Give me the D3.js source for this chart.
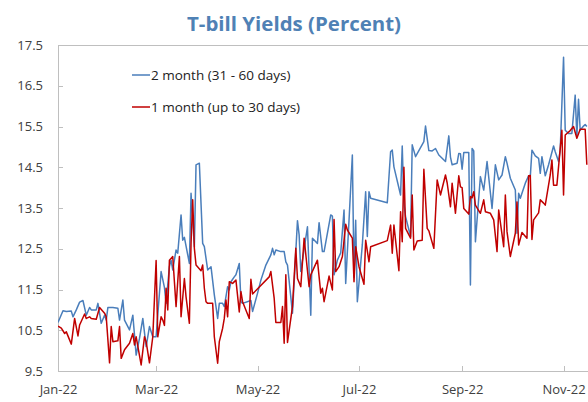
<!DOCTYPE html>
<html><head><meta charset="utf-8">
<script src="https://cdn.jsdelivr.net/npm/d3@7"></script>
<style>
html,body{margin:0;padding:0;background:#fff;}
svg{display:block;font-family:"Open Sans",sans-serif;}
</style></head>
<body><svg id="c" width="588" height="402"></svg>
<script>
const title = "T-bill Yields (Percent)";
const seriesNames = ["2 month (31 - 60 days)", "1 month (up to 30 days)"];
const yTicks = [9.5,10.5,11.5,12.5,13.5,14.5,15.5,16.5,17.5];

const blueDates = ["01-01","01-04","01-06","01-09","01-10","01-12","01-14","01-16","01-18","01-20","01-21","01-24","01-25","01-27","01-29","01-30","01-31","02-03","02-06","02-07","02-09","02-10","02-13","02-15","02-17","02-19","02-21","02-23","02-25","02-27","03-01","03-04","03-06","03-07","03-09","03-10","03-11","03-13","03-14","03-16","03-17","03-18","03-21","03-22","03-24","03-25","03-27","03-29","03-30","04-01","04-03","04-05","04-07","04-08","04-10","04-11","04-13","04-14","04-15","04-17","04-18","04-20","04-21","04-22","04-27","04-28","05-01","05-03","05-06","05-09","05-10","05-11","05-12","05-15","05-17","05-18","05-19","05-22","05-25","05-26","05-27","05-31","06-02","06-03","06-06","06-07","06-09","06-10","06-14","06-15","06-16","06-18","06-19","06-20","06-22","06-23","06-25","06-27","06-28","06-29","06-30","07-03","07-05","07-06","07-07","07-08","07-18","07-20","07-21","07-22","07-26","07-27","07-28","07-29","08-01","08-02","08-04","08-09","08-10","08-12","08-14","08-16","08-18","08-22","08-24","08-25","08-26","08-29","08-30","08-31","09-01","09-02","09-05","09-06","09-07","09-08","09-09","09-10","09-12","09-14","09-16","09-19","09-21","09-23","09-25","09-27","09-28","09-30","10-03","10-04","10-05","10-06","10-09","10-11","10-12","10-13","10-15","10-17","10-18","10-19","10-21","10-23","10-26","10-27","10-29","10-30","11-01","11-02","11-04","11-06","11-08","11-09","11-10","11-11","11-13","11-14","11-15"];
const blueValues = [10.69,10.98,10.96,10.97,10.83,11.00,11.19,11.23,10.87,11.06,11.00,11.00,11.16,10.67,10.87,10.75,11.06,11.06,11.04,10.75,11.24,10.75,10.51,10.87,9.89,10.30,10.79,10.10,10.59,10.34,10.34,11.94,11.55,11.16,12.06,12.22,11.98,12.47,12.39,13.33,12.71,12.78,12.14,13.86,12.55,14.56,14.60,12.63,12.55,11.98,12.06,11.37,10.79,11.16,11.16,11.08,11.57,11.49,11.69,11.81,11.86,12.14,11.20,11.16,11.23,10.96,11.41,11.73,12.10,12.35,12.51,12.35,12.47,12.43,12.43,12.18,12.10,10.92,13.19,12.84,11.94,13.04,10.87,12.76,12.63,13.14,12.43,12.43,13.33,13.30,11.86,12.22,12.31,12.40,13.45,11.65,13.20,14.80,11.80,13.20,11.20,12.60,13.90,12.80,13.90,13.74,13.63,14.88,14.92,14.51,13.82,15.02,13.61,13.29,12.80,15.05,14.76,15.13,15.51,14.91,14.90,14.96,14.80,14.64,15.27,14.75,14.56,14.60,14.84,14.83,14.45,14.86,14.86,11.61,14.96,14.90,12.67,13.21,14.27,13.94,14.64,13.49,14.56,14.19,14.31,14.76,14.60,14.23,13.94,12.88,13.86,13.74,14.11,14.29,14.27,14.92,14.78,14.72,14.35,14.76,14.29,14.56,15.02,14.88,14.64,14.92,17.20,15.41,15.33,15.33,16.27,15.25,16.17,15.41,15.51,15.55,15.50];

const redDates = ["01-01","01-03","01-05","01-06","01-09","01-11","01-13","01-14","01-17","01-18","01-20","01-21","01-24","01-26","01-29","01-30","02-01","02-02","02-03","02-06","02-07","02-08","02-10","02-13","02-15","02-16","02-17","02-20","02-22","02-23","02-25","02-27","03-01","03-02","03-04","03-05","03-06","03-07","03-08","03-09","03-11","03-12","03-13","03-15","03-16","03-18","03-19","03-21","03-22","03-23","03-24","03-25","03-28","03-29","03-30","03-31","04-01","04-04","04-05","04-07","04-08","04-10","04-11","04-12","04-13","04-14","04-16","04-18","04-20","04-21","04-22","04-26","04-27","04-28","05-08","05-09","05-11","05-12","05-15","05-16","05-17","05-18","05-19","05-22","05-24","05-25","05-27","05-29","06-01","06-02","06-06","06-08","06-09","06-10","06-13","06-15","06-16","06-17","06-19","06-21","06-23","06-24","06-27","06-28","06-29","07-01","07-04","07-05","07-07","07-08","07-18","07-20","07-21","07-22","07-25","07-26","07-27","07-28","07-29","08-01","08-02","08-03","08-05","08-08","08-09","08-11","08-12","08-15","08-17","08-19","08-22","08-23","08-25","08-26","08-27","08-28","08-30","08-31","09-01","09-02","09-05","09-06","09-07","09-08","09-09","09-12","09-14","09-15","09-18","09-20","09-22","09-23","09-26","09-27","09-28","09-30","10-03","10-04","10-05","10-07","10-10","10-11","10-12","10-13","10-14","10-17","10-18","10-20","10-21","10-24","10-25","10-26","10-28","10-31","11-01","11-02","11-05","11-07","11-09","11-11","11-14","11-15"];
const redValues = [10.60,10.55,10.42,10.46,10.16,10.79,10.36,10.63,10.90,10.79,10.83,10.79,10.77,11.06,10.92,10.83,9.70,10.59,10.22,10.24,10.59,9.81,10.02,10.18,10.42,10.14,10.34,9.65,10.34,10.22,9.70,10.34,12.21,10.34,10.83,10.75,10.62,11.53,11.00,12.22,12.31,11.69,11.08,12.31,10.83,11.77,11.32,10.67,12.63,13.70,12.51,12.10,11.96,12.10,11.53,11.20,11.16,11.16,10.34,9.69,10.22,10.55,10.79,11.24,10.83,11.69,11.65,11.73,10.95,11.45,11.20,10.79,11.75,11.39,11.81,11.94,11.28,10.69,10.69,11.08,10.18,11.86,10.20,11.08,12.51,11.77,11.57,12.76,11.57,11.86,12.22,11.41,11.53,11.20,11.83,11.49,13.22,11.94,12.06,12.31,13.10,12.96,12.76,11.69,12.55,12.06,11.63,12.71,12.18,12.55,12.70,13.08,12.39,13.08,11.96,13.41,12.67,14.50,13.00,12.76,13.82,12.47,12.69,12.71,14.45,13.00,12.94,12.51,14.19,13.82,14.31,14.12,13.53,14.11,13.74,13.37,14.29,14.02,14.00,13.49,13.35,13.78,13.75,13.90,13.57,13.37,13.70,13.41,13.37,13.21,12.43,13.45,12.55,13.82,12.92,12.31,12.88,13.65,12.59,12.90,12.76,14.29,14.30,12.73,13.21,13.38,13.70,13.62,13.57,14.31,14.68,14.06,14.06,15.41,13.82,15.29,15.40,15.50,15.21,15.43,15.43,14.56];

const parse = d3.timeParse("%Y-%m-%d");
const toPts = (ds, vs) => ds.map((d,i) => ({date: parse("2022-" + d), value: vs[i]}));
const blue = toPts(blueDates, blueValues);
const red = toPts(redDates, redValues);

const svg = d3.select("#c");
const W = 588, H = 402;
const mLeft = 58, mTop = 45, mBottom = 371;
const x = d3.scaleTime()
  .domain([parse("2022-01-01"), parse("2022-11-17")])
  .range([mLeft, mLeft + 320 * 1.663]);
const y = d3.scaleLinear().domain([9.5, 17.5]).range([mBottom, mTop]);

const axisColor = "#bfbfbf", textColor = "#404040";

svg.append("defs").append("clipPath").attr("id","clip")
  .append("rect").attr("x", mLeft).attr("y", 0).attr("width", W - mLeft).attr("height", H);

// top border
svg.append("line").attr("x1", mLeft).attr("x2", W).attr("y1", y(17.5)).attr("y2", y(17.5))
  .attr("stroke", axisColor).attr("stroke-width", 1).attr("shape-rendering","crispEdges");

const yAxis = svg.append("g").attr("transform", `translate(${mLeft},0)`)
  .call(d3.axisLeft(y).tickValues(yTicks).tickFormat(d3.format(".1f")).tickSizeInner(-5).tickSizeOuter(0).tickPadding(15));
const xAxis = svg.append("g").attr("transform", `translate(0,${mBottom})`)
  .call(d3.axisBottom(x).ticks(d3.timeMonth.every(2)).tickFormat(d3.timeFormat("%b-%y")).tickSizeInner(-5).tickSizeOuter(0).tickPadding(14));
xAxis.select(".domain").attr("d", `M${mLeft},0.5H${W}`);
[yAxis, xAxis].forEach(g => {
  g.selectAll("path,line").attr("stroke", axisColor).attr("shape-rendering","crispEdges");
  g.selectAll("text").attr("fill", textColor).style("font-size", "13px").style("font-family", '"Open Sans",sans-serif');
});

const line = d3.line().x(d => x(d.date)).y(d => y(d.value));
const plot = svg.append("g").attr("clip-path", "url(#clip)");
plot.append("path").datum(blue).attr("d", line).attr("fill","none")
  .attr("stroke","#4a7ebb").attr("stroke-width",1.5).attr("stroke-linejoin","round");
plot.append("path").datum(red).attr("d", line).attr("fill","none")
  .attr("stroke","#c00000").attr("stroke-width",1.5).attr("stroke-linejoin","round");

// legend
const legColors = ["#4a7ebb", "#c00000"];
const legY = [75, 107];
seriesNames.forEach((n, i) => {
  svg.append("line").attr("x1", 132).attr("x2", 150).attr("y1", legY[i]).attr("y2", legY[i])
    .attr("stroke", legColors[i]).attr("stroke-width", 1.5);
  svg.append("text").attr("x", 151).attr("y", legY[i]).attr("dy", "0.35em")
    .attr("fill", "#222").style("font-size", "13.5px").text(n);
});

// title
const t = svg.append("text").attr("x", 294).attr("y", 31).attr("text-anchor","middle")
  .attr("fill", "#4f81b5").style("font-weight","bold").style("font-size","20px").text(title);
const tw = t.node().getComputedTextLength();
t.style("font-size", (20 * 214 / tw).toFixed(2) + "px");
</script></body></html>
